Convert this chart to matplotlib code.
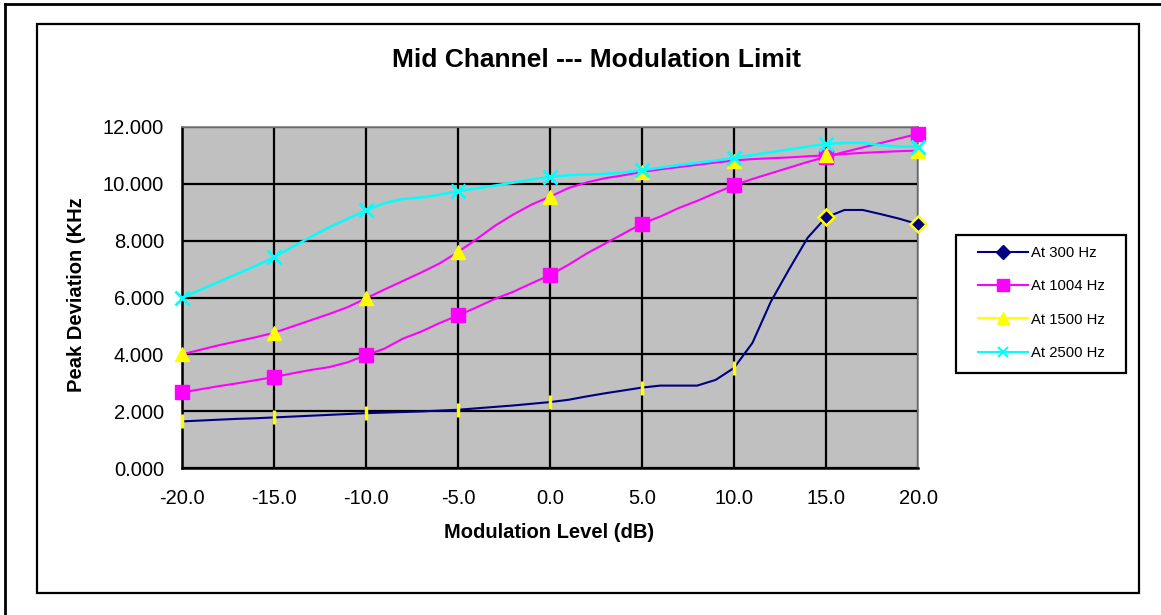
import numpy as np
import matplotlib
matplotlib.use("Agg")
import matplotlib.pyplot as plt
from matplotlib.lines import Line2D
from matplotlib.patches import Rectangle

plt.rcParams['font.family'] = ['Liberation Sans', 'DejaVu Sans']

# Peak deviation (KHz) read at 1 dB steps, markers every 5 dB
level_db = np.arange(-20, 21)

dev_300 = [1.64, 1.67, 1.70, 1.73, 1.75, 1.78, 1.81, 1.84, 1.87, 1.90,
           1.93, 1.95, 1.97, 1.99, 2.02, 2.05, 2.10, 2.15, 2.20, 2.26,
           2.32, 2.40, 2.52, 2.63, 2.73, 2.83, 2.90, 2.90, 2.90, 3.10,
           3.52, 4.40, 5.85, 7.00, 8.10, 8.82, 9.08, 9.08, 8.93, 8.77, 8.58]
dev_1004 = [2.66, 2.77, 2.88, 2.98, 3.09, 3.20, 3.33, 3.45, 3.55, 3.72,
            3.97, 4.20, 4.55, 4.80, 5.10, 5.37, 5.65, 5.95, 6.20, 6.50,
            6.79, 7.15, 7.55, 7.90, 8.25, 8.60, 8.85, 9.15, 9.40, 9.68,
            9.95, 10.17, 10.37, 10.57, 10.77, 10.95, 11.12, 11.28, 11.44, 11.60, 11.76]
dev_1500 = [4.00, 4.16, 4.32, 4.46, 4.60, 4.76, 4.98, 5.20, 5.42, 5.66,
            5.97, 6.28, 6.58, 6.88, 7.20, 7.60, 8.05, 8.52, 8.92, 9.27,
            9.55, 9.85, 10.05, 10.20, 10.30, 10.42, 10.51, 10.59, 10.67, 10.75,
            10.82, 10.87, 10.90, 10.93, 10.97, 11.00, 11.05, 11.09, 11.12, 11.15, 11.17]
dev_2500 = [5.98, 6.27, 6.55, 6.83, 7.11, 7.42, 7.78, 8.13, 8.47, 8.77,
            9.07, 9.32, 9.47, 9.52, 9.62, 9.74, 9.84, 9.94, 10.04, 10.15,
            10.25, 10.30, 10.33, 10.35, 10.40, 10.48, 10.57, 10.66, 10.74, 10.82,
            10.91, 11.01, 11.11, 11.21, 11.31, 11.40, 11.44, 11.44, 11.36, 11.31, 11.31]

labels = ['At 300 Hz', 'At 1004 Hz', 'At 1500 Hz', 'At 2500 Hz']
x_ticks = [-20, -15, -10, -5, 0, 5, 10, 15, 20]
y_ticks = [0, 2, 4, 6, 8, 10, 12]

navy, magenta, yellow, cyan = '#000080', '#FF00FF', '#FFFF00', '#00FFFF'

W, H = 1161, 615
fig = plt.figure(figsize=(W / 100, H / 100), dpi=100)
ax = fig.add_axes([182 / W, 1 - 468 / H, (918 - 182) / W, (468 - 127) / H])
ax.set_facecolor('#C0C0C0')

every5 = slice(None, None, 5)
lw = 1.5

# 300 Hz: navy line, yellow tick marks, last two points as diamonds
ax.plot(level_db, dev_300, color=navy, lw=lw, zorder=3)
ax.plot(level_db[:31:5], dev_300[:31:5], ls='none', marker='|', ms=10,
        mew=2.5, color=yellow, zorder=4, clip_on=False)
ax.plot(level_db[35::5], dev_300[35::5], ls='none', marker='D', ms=8,
        mfc=navy, mec=yellow, mew=1.8, zorder=4, clip_on=False)
# 1004 Hz
ax.plot(level_db, dev_1004, color=magenta, lw=lw, marker='s', ms=10,
        markevery=every5, mfc=magenta, mec=magenta, zorder=5, clip_on=False)
# 1500 Hz: line drawn magenta, markers yellow
ax.plot(level_db, dev_1500, color=magenta, lw=lw, marker='^', ms=10,
        markevery=every5, mfc=yellow, mec=yellow, zorder=6, clip_on=False)
# 2500 Hz
ax.plot(level_db, dev_2500, color=cyan, lw=lw + 0.3, marker='x', ms=10,
        mew=2, markevery=every5, zorder=7, clip_on=False)

ax.set_xlim(-20, 20)
ax.set_ylim(0, 12)
ax.set_xticks(x_ticks)
ax.set_yticks(y_ticks)
ax.set_xticklabels(['%.1f' % v for v in x_ticks])
ax.set_yticklabels(['%.3f' % v for v in y_ticks])
ax.tick_params(length=0, labelsize=14.5)
ax.tick_params(axis='x', pad=15)
ax.tick_params(axis='y', pad=13)
ax.grid(True, color='black', lw=1.6)
ax.set_axisbelow(True)
for s in ['left', 'bottom']:
    ax.spines[s].set_color('black')
    ax.spines[s].set_linewidth(1.8)
for s in ['top', 'right']:
    ax.spines[s].set_color('#808080')
    ax.spines[s].set_linewidth(1.2)

fig.text(597 / W, 1 - 60 / H, 'Mid Channel --- Modulation Limit',
         ha='center', va='center', fontsize=19, fontweight='bold')
fig.text(549 / W, 1 - 533 / H, 'Modulation Level (dB)',
         ha='center', va='center', fontsize=14.5, fontweight='bold')
fig.text(77 / W, 1 - 295 / H, 'Peak Deviation (KHz', rotation=90,
         ha='center', va='center', fontsize=14.5, fontweight='bold')

# chart border and outer page lines
fig.patches.append(Rectangle((37 / W, 1 - 593 / H), (1139 - 37) / W, (593 - 24) / H,
                             transform=fig.transFigure, fill=False,
                             edgecolor='black', lw=1.6))
fig.lines.append(Line2D([5 / W, 1], [1 - 4 / H, 1 - 4 / H],
                        transform=fig.transFigure, color='black', lw=2))
fig.lines.append(Line2D([5 / W, 5 / W], [0, 1 - 4 / H],
                        transform=fig.transFigure, color='black', lw=2))

# legend
fig.patches.append(Rectangle((956 / W, 1 - 373 / H), (1126 - 956) / W, (373 - 235) / H,
                             transform=fig.transFigure, fill=True, facecolor='white',
                             edgecolor='black', lw=1.6))
handles = [
    Line2D([], [], color=navy, lw=lw, marker='D', ms=7, mfc=navy, mec=navy),
    Line2D([], [], color=magenta, lw=lw, marker='s', ms=8, mfc=magenta, mec=magenta),
    Line2D([], [], color=yellow, lw=lw, marker='^', ms=8, mfc=yellow, mec=yellow),
    Line2D([], [], color=cyan, lw=lw, marker='x', ms=7, mew=1.5),
]
fig.legend(handles, labels, loc='center', bbox_to_anchor=(1041 / W, 1 - 303 / H),
           frameon=False, fontsize=10.7, handlelength=3.36, handletextpad=0.2,
           labelspacing=1.3)

fig.savefig('out.png', dpi=100)
